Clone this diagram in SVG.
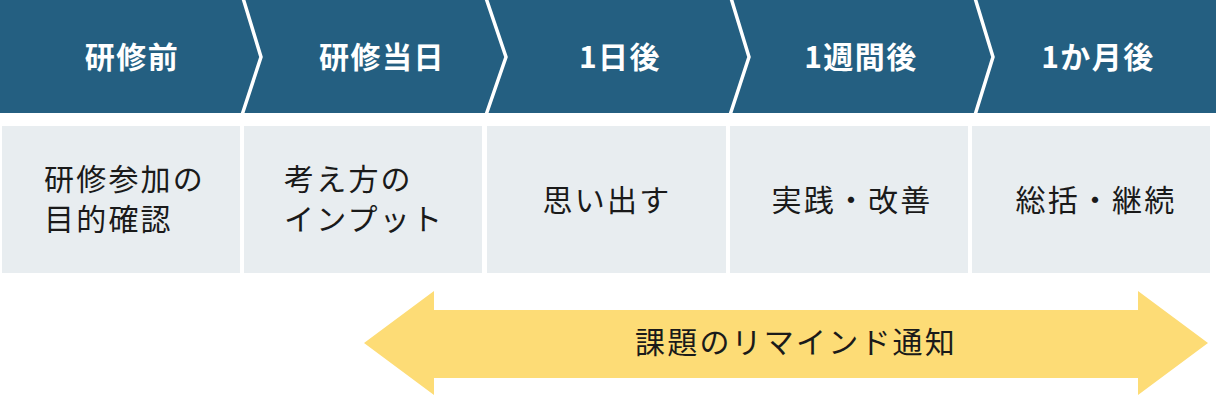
<svg xmlns="http://www.w3.org/2000/svg" width="1216" height="404" viewBox="0 0 1216 404">
<style>
.hd{fill:#245f81}
.div{fill:none;stroke:#fff;stroke-width:3.5;stroke-linejoin:miter}
.bx{fill:#e8edf0}
.ht{font-family:"Noto Sans CJK JP","Noto Sans",sans-serif;font-weight:700;font-size:30px;fill:#fff;letter-spacing:1.5px;text-anchor:middle}
.bt{font-family:"Noto Sans CJK JP","Noto Sans",sans-serif;font-weight:400;font-size:30px;fill:#1a1a1a;letter-spacing:2.2px}
.c{text-anchor:middle}
</style>
<rect width="1216" height="404" fill="#fff"/>
<g id="stage1">
<polygon class="hd" points="0,0 243,0 261,57 242,113 0,113"/>
<text class="ht" x="132" y="68">研修前</text>
<rect class="bx" x="2" y="126" width="238" height="147"/>
<text class="bt" x="44" y="190">研修参加の</text>
<text class="bt" x="44" y="230">目的確認</text>
</g>
<g id="stage2">
<polygon class="hd" points="243,0 486,0 506,57 486,113 242,113 261,57"/>
<text class="ht" x="382" y="68">研修当日</text>
<rect class="bx" x="244" y="126" width="238" height="147"/>
<text class="bt" x="284" y="190">考え方の</text>
<text class="bt" x="284" y="230">インプット</text>
</g>
<g id="stage3">
<polygon class="hd" points="486,0 731,0 749,57 730,113 486,113 506,57"/>
<text class="ht" x="620" y="68">1日後</text>
<rect class="bx" x="487" y="126" width="239" height="147"/>
<text class="bt c" x="607" y="211">思い出す</text>
</g>
<g id="stage4">
<polygon class="hd" points="731,0 975,0 993,57 975,113 730,113 749,57"/>
<text class="ht" x="861" y="68">1週間後</text>
<rect class="bx" x="730" y="126" width="238" height="147"/>
<text class="bt c" x="852" y="211">実践・改善</text>
</g>
<g id="stage5">
<polygon class="hd" points="975,0 1216,0 1216,113 975,113 993,57"/>
<text class="ht" x="1098" y="68">1か月後</text>
<rect class="bx" x="972" y="126" width="238" height="147"/>
<text class="bt c" x="1096" y="211">総括・継続</text>
</g>
<g id="connectors">
<polyline class="div" points="243,-2 261,57 242,115"/>
<polyline class="div" points="486,-2 506,57 486,115"/>
<polyline class="div" points="731,-2 749,57 730,115"/>
<polyline class="div" points="975,-2 993,57 975,115"/>
</g>
<g id="reminder">
<polygon fill="#fddc76" points="364,343 434,291 434,310 1138,310 1138,291 1208,343 1138,395 1138,378 434,378 434,395"/>
<text class="bt c" x="796" y="353">課題のリマインド通知</text>
</g>
</svg>
